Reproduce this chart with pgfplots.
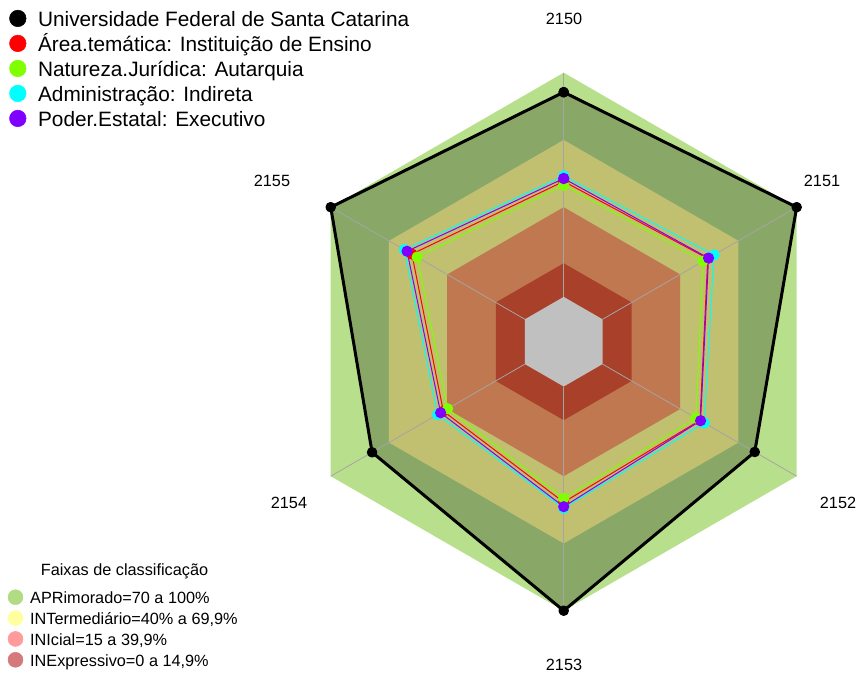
\documentclass[border=0pt]{standalone}
\usepackage{pgfplots}
\usepackage{pgfplotstable}
\pgfplotsset{compat=1.18}
\usepackage{fontspec}
\setmainfont{Liberation Sans}
\definecolor{bgreen}{RGB}{184,224,140}
\definecolor{dgreen}{RGB}{137,168,104}
\definecolor{byellow}{RGB}{192,192,112}
\definecolor{borange}{RGB}{192,120,80}
\definecolor{bred}{RGB}{168,64,42}
\definecolor{bgray}{RGB}{192,192,192}
\definecolor{sgreen}{RGB}{128,255,0}
\definecolor{scyan}{RGB}{0,255,255}
\definecolor{spurple}{RGB}{128,0,255}
\definecolor{lAPR}{RGB}{178,220,132}
\definecolor{lINT}{RGB}{255,255,160}
\definecolor{lINI}{RGB}{255,155,155}
\definecolor{lINE}{RGB}{212,122,122}
\definecolor{spoke}{RGB}{165,165,165}
% series values (percent) on the six axes 2150..2155, first row repeated to close
\pgfplotstableread{
ang blk red grn cyn pur
90  91.3 51.5 49.9 53.9 52.8
30  100  54.2 51.8 57.4 54.6
330 78.4 50.2 48.1 52.4 50.5
270 100  51.6 49.9 54.3 53.6
210 78.7 42.0 39.8 45.0 43.4
150 100  58.2 55.5 62.1 60.7
90  91.3 51.5 49.9 53.9 52.8
}\seriesdata
% classification band limits
\pgfplotstableread{
ang apr int ini ine zer
90  100 70 40 15 0
30  100 70 40 15 0
330 100 70 40 15 0
270 100 70 40 15 0
210 100 70 40 15 0
150 100 70 40 15 0
90  100 70 40 15 0
}\banddata
\pgfplotsset{
  radar/.style={data cs=polar, forget plot},
  band/.style={radar, draw=none},
  ser/.style={radar, line width=0.75pt, mark=*, mark size=3.8pt},
}
\begin{document}
\begin{tikzpicture}[x=0.75pt,y=0.75pt]
\path[use as bounding box] (0,0) rectangle (863,675);
\coordinate (C) at (563.7,333.3);
\coordinate (L2) at (7.5,85.8);
\coordinate (O) at (0,0);
\begin{axis}[
  at={(C)}, anchor=center,
  scale only axis, width=403.5pt, height=403.5pt,
  hide axis,
  xmin=-120, xmax=120, ymin=-120, ymax=120,
  clip=false,
  legend style={at={(-0.5310,1.1182)}, anchor=north west, draw=none, fill=none,
    font=\fontsize{15.6}{18}\selectfont, row sep=1.75pt, inner sep=0pt,
    nodes={inner sep=1pt, text height=11.5pt, text depth=3.5pt},
    cells={anchor=west}},
  legend cell align=left,
  legend image code/.code={\path (0pt,0pt) (20.2pt,0pt); \fill[#1] (6.2pt,0.17em) circle (6.2pt);},
]
% classification bands
\addplot[band, fill=bgreen]  table[x=ang, y expr=\thisrow{apr}+20] {\banddata};
\addplot[band, fill=dgreen]  table[x=ang, y expr=\thisrow{blk}+20] {\seriesdata};
\addplot[band, fill=byellow] table[x=ang, y expr=\thisrow{int}+20] {\banddata};
\addplot[band, fill=borange] table[x=ang, y expr=\thisrow{ini}+20] {\banddata};
\addplot[band, fill=bred]    table[x=ang, y expr=\thisrow{ine}+20] {\banddata};
\addplot[band, fill=bgray]   table[x=ang, y expr=\thisrow{zer}+20] {\banddata};
% spokes
\addplot[radar, spoke, line width=0.6pt] table[x=ang, y expr=\thisrow{v}+20, row sep=\\] {ang v\\ 90 0\\ 90 100\\};
\addplot[radar, spoke, line width=0.6pt] table[x=ang, y expr=\thisrow{v}+20, row sep=\\] {ang v\\ 30 0\\ 30 100\\};
\addplot[radar, spoke, line width=0.6pt] table[x=ang, y expr=\thisrow{v}+20, row sep=\\] {ang v\\ 330 0\\ 330 100\\};
\addplot[radar, spoke, line width=0.6pt] table[x=ang, y expr=\thisrow{v}+20, row sep=\\] {ang v\\ 270 0\\ 270 100\\};
\addplot[radar, spoke, line width=0.6pt] table[x=ang, y expr=\thisrow{v}+20, row sep=\\] {ang v\\ 210 0\\ 210 100\\};
\addplot[radar, spoke, line width=0.6pt] table[x=ang, y expr=\thisrow{v}+20, row sep=\\] {ang v\\ 150 0\\ 150 100\\};
% series
\addplot[radar, black, line width=2.25pt, line join=round, mark=*, mark size=2.8pt] table[x=ang, y expr=\thisrow{blk}+20] {\seriesdata};
\addplot[ser, red]     table[x=ang, y expr=\thisrow{red}+20] {\seriesdata};
\addplot[ser, sgreen]  table[x=ang, y expr=\thisrow{grn}+20] {\seriesdata};
\addplot[ser, scyan]   table[x=ang, y expr=\thisrow{cyn}+20] {\seriesdata};
\addplot[ser, spurple] table[x=ang, y expr=\thisrow{pur}+20] {\seriesdata};
\addlegendimage{black}\addlegendentry{Universidade Federal de Santa Catarina}
\addlegendimage{red}\addlegendentry{Área.temática: Instituição de Ensino}
\addlegendimage{sgreen}\addlegendentry{Natureza.Jurídica: Autarquia}
\addlegendimage{scyan}\addlegendentry{Administração: Indireta}
\addlegendimage{spurple}\addlegendentry{Poder.Estatal: Executivo}
\end{axis}
\begin{axis}[
  at={(O)}, anchor=south west, hide axis, scale only axis,
  width=5pt, height=5pt, xmin=0, xmax=1, ymin=0, ymax=1,
  legend style={at={(L2)}, anchor=north west, draw=none, fill=none,
    font=\fontsize{12.2}{14}\selectfont, row sep=1.4pt, inner sep=0pt,
    nodes={inner sep=1pt, text height=9pt, text depth=2.5pt},
    cells={anchor=west}},
  legend cell align=left,
  legend image code/.code={\path (0pt,0pt) (15.4pt,0pt); \fill[#1] (5.6pt,0.17em) circle (5.6pt);},
]
\addlegendimage{lAPR}\addlegendentry{APRimorado=70 a 100\%}
\addlegendimage{lINT}\addlegendentry{INTermediário=40\% a 69,9\%}
\addlegendimage{lINI}\addlegendentry{INIcial=15 a 39,9\%}
\addlegendimage{lINE}\addlegendentry{INExpressivo=0 a 14,9\%}
\end{axis}
\node[font=\fontsize{12.2}{14}\selectfont] at (124.5,104) {Faixas de classificação};
\node[font=\fontsize{12.2}{14}\selectfont] at (564,656) {2150};
\node[font=\fontsize{12.2}{14}\selectfont] at (822,494) {2151};
\node[font=\fontsize{12.2}{14}\selectfont] at (838,172) {2152};
\node[font=\fontsize{12.2}{14}\selectfont] at (564,10) {2153};
\node[font=\fontsize{12.2}{14}\selectfont] at (289,172) {2154};
\node[font=\fontsize{12.2}{14}\selectfont] at (272,494) {2155};
\end{tikzpicture}
\end{document}
